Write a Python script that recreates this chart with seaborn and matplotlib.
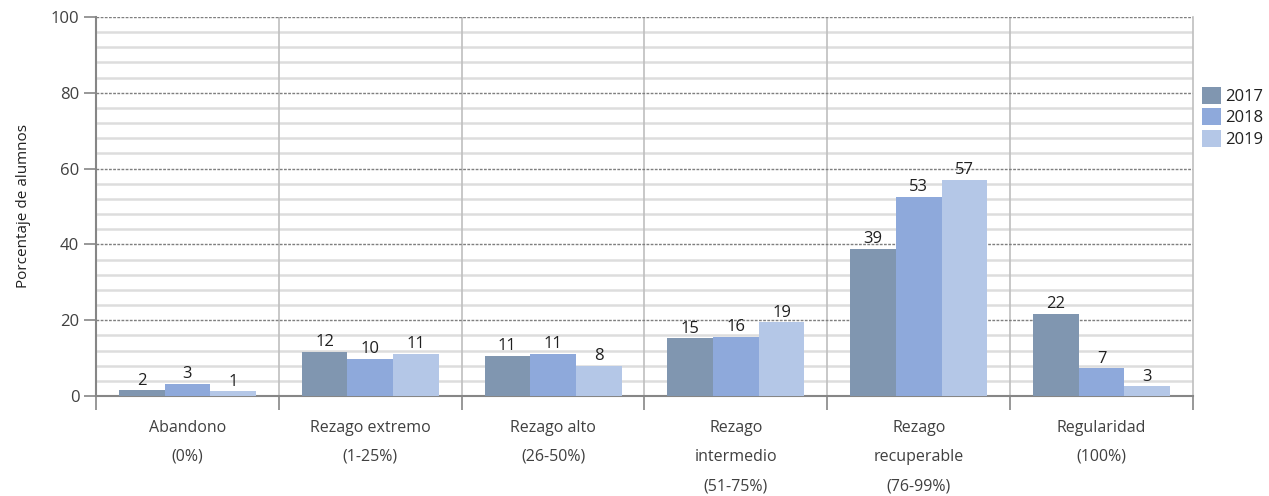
import matplotlib
matplotlib.use("Agg")
import matplotlib.pyplot as plt
import seaborn as sns
import pandas as pd
import numpy as np
from matplotlib.ticker import MultipleLocator, FixedLocator

categories = ["Abandono\n(0%)", "Rezago extremo\n(1-25%)", "Rezago alto\n(26-50%)",
              "Rezago\nintermedio\n(51-75%)", "Rezago\nrecuperable\n(76-99%)", "Regularidad\n(100%)"]
years = ["2017", "2018", "2019"]
v2017 = [1.6, 11.7, 10.6, 15.2, 38.9, 21.7]
v2018 = [3.2, 9.8, 11.2, 15.6, 52.6, 7.3]
v2019 = [1.2, 11.2, 8.0, 19.4, 57.1, 2.6]
colors = ["#8096B0", "#8EA9DB", "#B4C7E7"]

rows = []
for y, vals in zip(years, [v2017, v2018, v2019]):
    for c, v in zip(categories, vals):
        rows.append({"cat": c, "year": y, "val": v})
df = pd.DataFrame(rows)

sns.set_theme(style="white")
plt.rcParams['font.family'] = ['Open Sans', 'DejaVu Sans']
txt = "#404040"

fig = plt.figure(figsize=(12.69, 4.96), dpi=100)
ax = fig.add_axes([96/1269, 1-396/496, (1193-96)/1269, (396-17)/496])

sns.barplot(data=df, x="cat", y="val", hue="year", palette=colors, width=0.75,
            gap=0, ax=ax, saturation=1, edgecolor="none", linewidth=0, zorder=3)

for cont in ax.containers:
    ax.bar_label(cont, fmt="%.0f", padding=1, fontsize=12, color="#202020")

ax.set_ylim(0, 100)
ax.set_xlim(-0.5, 5.5)
ax.yaxis.set_major_locator(MultipleLocator(20))
ax.yaxis.set_minor_locator(MultipleLocator(4))
ax.grid(False)
for yv in np.arange(4, 100, 4):
    if yv % 20 != 0:
        ax.axhline(yv, color="#DDDDDD", lw=1.8, zorder=1)
for yv in [20, 40, 60, 80, 100]:
    ax.axhline(yv, color="#7F7F7F", lw=1.0, ls=(0, (2, 1)), zorder=2)
for xv in np.arange(0.5, 5.5, 1):
    ax.axvline(xv, color="#BFBFBF", lw=1.2, zorder=1)

ax.spines["top"].set_visible(False)
ax.spines["right"].set_color("#BFBFBF")
ax.spines["right"].set_linewidth(1.2)
ax.spines["left"].set_color("#868686")
ax.spines["left"].set_linewidth(1.5)
ax.spines["bottom"].set_color("#868686")
ax.spines["bottom"].set_linewidth(1.5)

ax.tick_params(axis="y", which="major", length=9, width=1.2, color="#868686",
               labelsize=12, labelcolor=txt, pad=3, left=True)
ax.tick_params(axis="y", which="minor", length=0)
ax.xaxis.set_minor_locator(FixedLocator(np.arange(-0.5, 6, 1)))
ax.tick_params(axis="x", which="minor", length=10, width=1.2, color="#868686", bottom=True)
ax.tick_params(axis="x", which="major", length=0, labelsize=11.5, labelcolor=txt, pad=17)
ax.set_xticks(range(len(categories)))
ax.set_xticklabels(categories, linespacing=2.1)

ax.set_xlabel("")
ax.set_ylabel("Porcentaje de alumnos", fontsize=11, color="#202020", labelpad=14)

leg = ax.legend(loc="upper left", bbox_to_anchor=(1.0, 0.84), frameon=False,
                fontsize=12, handlelength=1.1, handleheight=1.2, handletextpad=0.3,
                labelspacing=0.2, borderaxespad=0.15)
for t in leg.get_texts():
    t.set_color("#202020")

fig.savefig("out.png", dpi=100)
